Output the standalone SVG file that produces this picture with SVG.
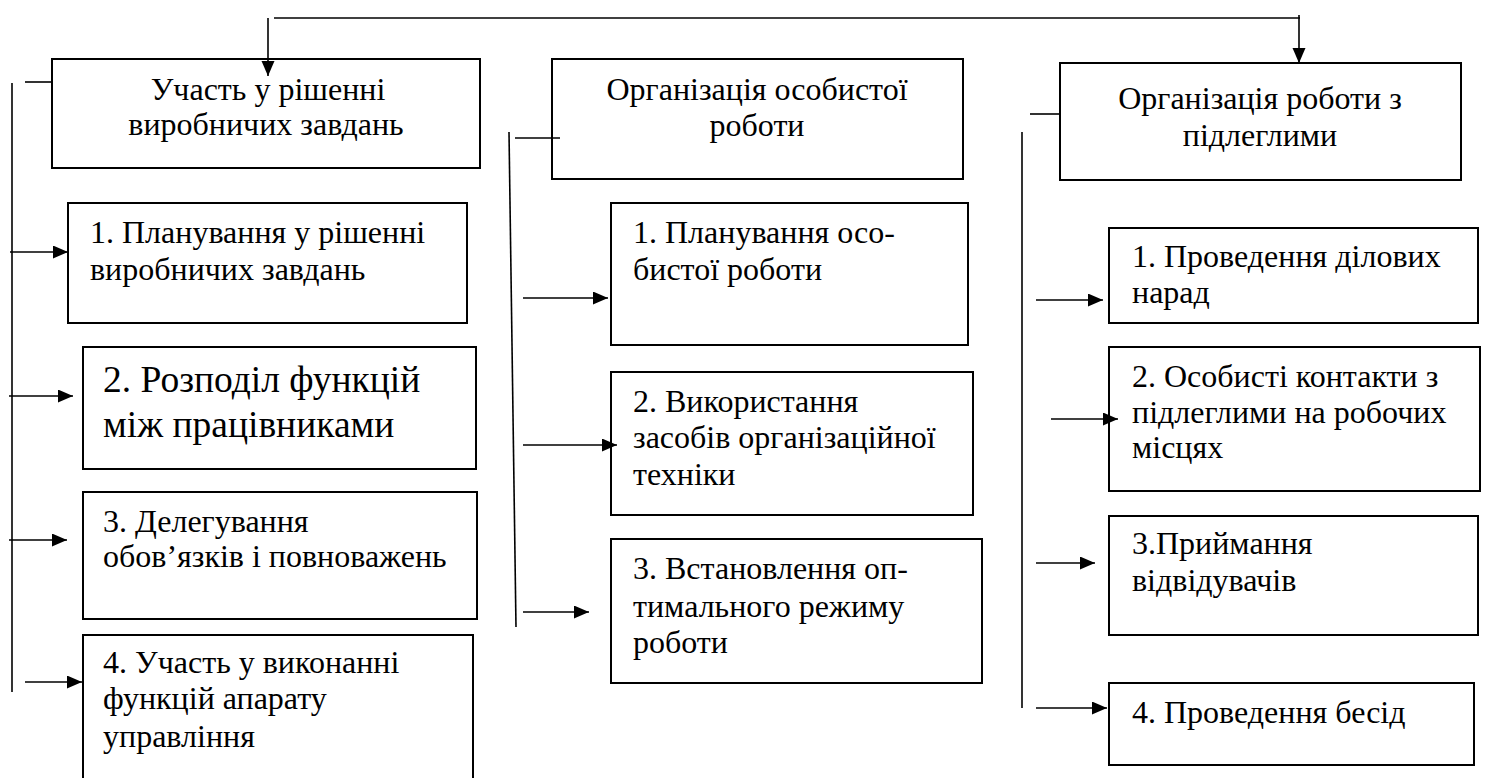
<svg xmlns="http://www.w3.org/2000/svg" width="1486" height="778" viewBox="0 0 1486 778">
<style>
.box{fill:#fff;stroke:#000;stroke-width:2}
.ln{fill:none;stroke:#000;stroke-width:1.6}
.ar{fill:none;stroke:#000;stroke-width:1.6;marker-end:url(#ah)}
text{font-family:'Liberation Serif','DejaVu Serif',serif;font-size:32px;fill:#000}
.c{text-anchor:middle}
.big{font-size:37.5px}
</style>
<defs>
<marker id="ah" markerUnits="userSpaceOnUse" markerWidth="16" markerHeight="14" refX="15" refY="6.5" orient="auto">
<path d="M0,0 L15,6.5 L0,13 z" fill="#000"/>
</marker>
</defs>
<g id="h1">
<rect class="box" x="52" y="59" width="428" height="109"/>
<text class="c" x="268" y="100">Участь у рішенні</text>
<text class="c" x="266" y="135">виробничих завдань</text>
</g>
<g id="h2">
<rect class="box" x="552" y="59" width="411" height="120"/>
<text class="c" x="757" y="100">Організація особистої</text>
<text class="c" x="757" y="136">роботи</text>
</g>
<g id="h3">
<rect class="box" x="1060" y="63" width="401" height="117"/>
<text class="c" x="1260" y="109">Організація роботи з</text>
<text class="c" x="1260" y="146">підлеглими</text>
</g>
<g id="l1">
<rect class="box" x="68" y="203" width="399" height="120"/>
<text x="90" y="243">1. Планування у рішенні</text>
<text x="90" y="280">виробничих завдань</text>
</g>
<g id="l2">
<rect class="box" x="83" y="347" width="393" height="122"/>
<text class="big" x="103" y="392">2. Розподіл функцій</text>
<text class="big" x="103" y="437">між працівниками</text>
</g>
<g id="l3">
<rect class="box" x="83" y="492" width="394" height="127"/>
<text x="103" y="532">3. Делегування</text>
<text x="103" y="567">обов’язків і повноважень</text>
</g>
<g id="l4">
<rect class="box" x="83" y="635" width="390" height="150"/>
<text x="103" y="673">4. Участь у виконанні</text>
<text x="103" y="709">функцій апарату</text>
<text x="103" y="747">управління</text>
</g>
<g id="m1">
<rect class="box" x="611" y="203" width="357" height="142"/>
<text x="633" y="243">1. Планування осо-</text>
<text x="633" y="280">бистої роботи</text>
</g>
<g id="m2">
<rect class="box" x="611" y="372" width="362" height="143"/>
<text x="633" y="412">2. Використання</text>
<text x="633" y="448">засобів організаційної</text>
<text x="633" y="485">техніки</text>
</g>
<g id="m3">
<rect class="box" x="611" y="539" width="371" height="144"/>
<text x="633" y="579">3. Встановлення оп-</text>
<text x="633" y="617">тимального режиму</text>
<text x="633" y="653">роботи</text>
</g>
<g id="r1">
<rect class="box" x="1109" y="228" width="369" height="95"/>
<text x="1132" y="267">1. Проведення ділових</text>
<text x="1132" y="303">нарад</text>
</g>
<g id="r2">
<rect class="box" x="1109" y="347" width="371" height="144"/>
<text x="1132" y="387">2. Особисті контакти з</text>
<text x="1132" y="423">підлеглими на робочих</text>
<text x="1132" y="458">місцях</text>
</g>
<g id="r3">
<rect class="box" x="1109" y="516" width="369" height="119"/>
<text x="1132" y="554">3.Приймання</text>
<text x="1132" y="591">відвідувачів</text>
</g>
<g id="r4">
<rect class="box" x="1109" y="683" width="365" height="82"/>
<text x="1132" y="723">4. Проведення бесід</text>
</g>
<g id="connectors">
<line class="ln" x1="274" y1="18" x2="1300" y2="18"/>
<line class="ar" x1="268" y1="18" x2="268" y2="76"/>
<line class="ar" x1="1299" y1="15" x2="1299" y2="63"/>
<line class="ln" x1="25" y1="82" x2="52" y2="82"/>
<line class="ln" x1="12" y1="83" x2="12" y2="692"/>
<line class="ar" x1="10" y1="252" x2="68" y2="252"/>
<line class="ar" x1="9" y1="396" x2="73" y2="396"/>
<line class="ar" x1="9" y1="540" x2="67" y2="540"/>
<line class="ar" x1="25" y1="682" x2="82" y2="682"/>
<line class="ln" x1="515" y1="138" x2="560" y2="138"/>
<line class="ln" x1="509" y1="132" x2="516" y2="627"/>
<line class="ar" x1="523" y1="298" x2="608" y2="298"/>
<line class="ar" x1="523" y1="445" x2="617" y2="445"/>
<line class="ar" x1="523" y1="612" x2="589" y2="612"/>
<line class="ln" x1="1030" y1="114" x2="1060" y2="114"/>
<line class="ln" x1="1022" y1="132" x2="1022" y2="708"/>
<line class="ar" x1="1036" y1="300" x2="1103" y2="300"/>
<line class="ar" x1="1051" y1="419" x2="1118" y2="419"/>
<line class="ar" x1="1036" y1="563" x2="1095" y2="563"/>
<line class="ar" x1="1036" y1="708" x2="1107" y2="708"/>
</g>
</svg>
